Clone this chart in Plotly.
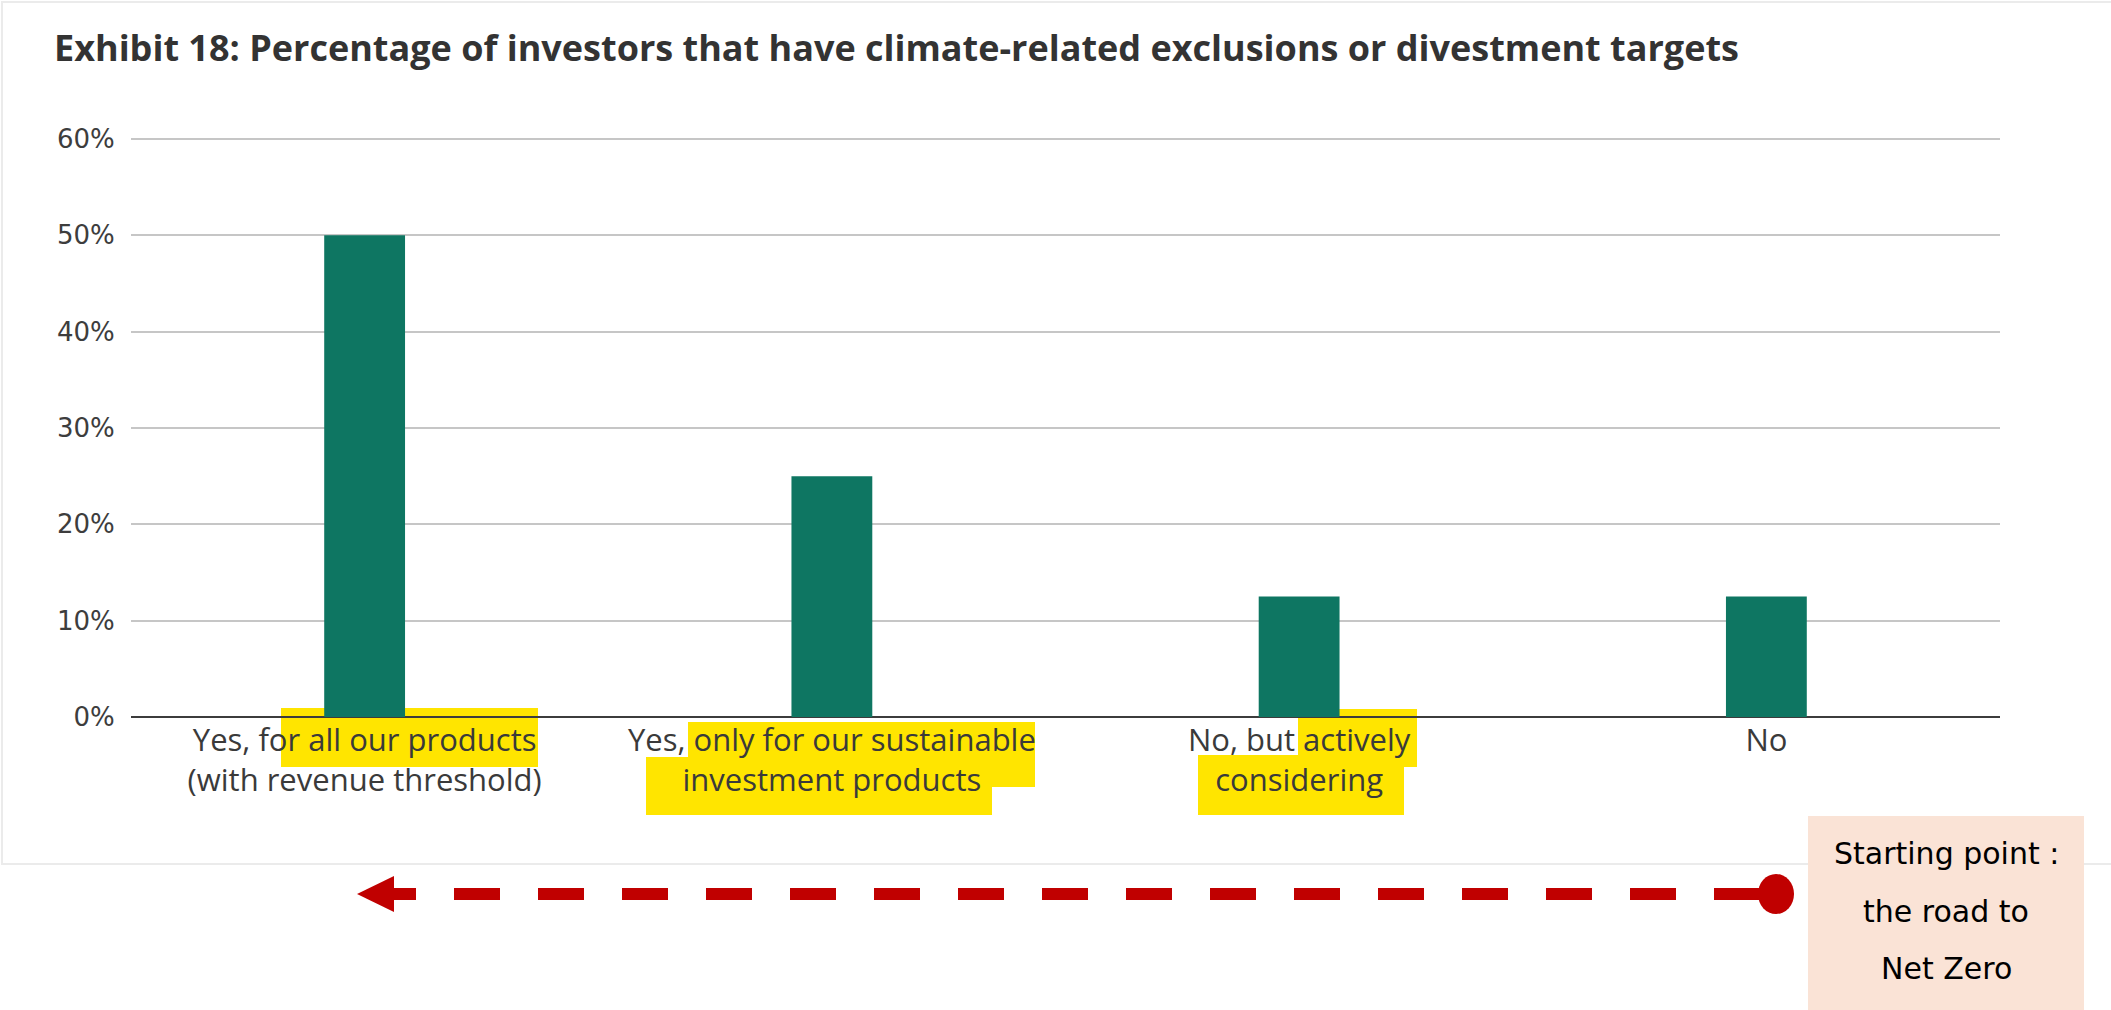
import plotly.graph_objects as go

# ---- data ----
categories = [
    "Yes, for all our products<br>(with revenue threshold)",
    "Yes, only for our sustainable<br>investment products",
    "No, but actively<br>considering",
    "No",
]
values = [50, 25, 12.5, 12.5]
y_ticks = [0, 10, 20, 30, 40, 50, 60]
y_tick_labels = ["0%", "10%", "20%", "30%", "40%", "50%", "60%"]
title_text = "Exhibit 18: Percentage of investors that have climate-related exclusions or divestment targets"
box_lines = ["Starting point :", "the road to", "Net Zero"]

# ---- layout geometry (pixels) ----
FW, FH = 2111, 1010
L, R_EDGE = 131, 2000
T, B = 137, 717
W, H = R_EDGE - L, B - T


def px(x):
    return (x - L) / W


def py(y):
    return (B - y) / H


fig = go.Figure()
fig.add_trace(go.Bar(
    x=categories, y=values,
    marker=dict(color="#0e7662", line=dict(width=0)),
    hoverinfo="skip",
))

shapes = []
# panel border
shapes.append(dict(type="rect", xref="paper", yref="paper",
                   x0=px(2), x1=px(2140), y0=py(2), y1=py(864),
                   line=dict(color="#ebebeb", width=2), fillcolor="rgba(0,0,0,0)", layer="below"))

# yellow highlights (behind text)
yellow = "#ffe500"
for (x0, y0, x1, y1) in [
    (281, 708, 538, 767),
    (688, 722, 1035, 787),
    (646, 757, 992, 815),
    (1298, 709, 1417, 767),
    (1198, 755, 1404, 815),
]:
    shapes.append(dict(type="rect", xref="paper", yref="paper",
                       x0=px(x0), x1=px(x1), y0=py(y0), y1=py(y1),
                       fillcolor=yellow, line=dict(width=0), layer="below"))

red = "#c00000"
# dashed arrow shaft (starting at circle)
shapes.append(dict(type="line", xref="paper", yref="paper",
                   x0=px(1760), x1=px(392), y0=py(894), y1=py(894),
                   line=dict(color=red, width=12, dash="46px,38px")))
# arrow head
shapes.append(dict(type="path", xref="paper", yref="paper",
                   path=f"M {px(357)} {py(894)} L {px(394)} {py(876)} L {px(394)} {py(912)} Z",
                   fillcolor=red, line=dict(width=0)))
# start circle
shapes.append(dict(type="circle", xref="paper", yref="paper",
                   x0=px(1758), x1=px(1794), y0=py(874), y1=py(914),
                   fillcolor=red, line=dict(width=0)))
# peach box
shapes.append(dict(type="rect", xref="paper", yref="paper",
                   x0=px(1808), x1=px(2084), y0=py(816), y1=py(1012),
                   fillcolor="#fae3d6", line=dict(width=0)))

annotations = [
    dict(text=f"<b>{title_text}</b>", xref="paper", yref="paper",
         x=px(52), y=py(47), xanchor="left", yanchor="middle", showarrow=False,
         font=dict(family="Open Sans", size=36, color="#333333")),
]
for line_txt, yy in zip(box_lines, [853, 911, 968]):
    annotations.append(dict(text=line_txt, xref="paper", yref="paper",
                            x=px(1946), y=py(yy), xanchor="center", yanchor="middle",
                            showarrow=False,
                            font=dict(family="DejaVu Sans", size=30, color="#000000")))

fig.update_layout(
    width=FW, height=FH,
    margin=dict(l=L, r=FW - R_EDGE, t=T, b=FH - B, pad=0),
    paper_bgcolor="white", plot_bgcolor="white",
    showlegend=False,
    bargap=0.827,
    shapes=shapes,
    annotations=annotations,
    xaxis=dict(
        showgrid=False, showline=False, zeroline=False,
        ticks="", ticklen=0, ticklabelstandoff=2,
        tickfont=dict(family="Open Sans", size=31, color="#3a3a3a"),
        fixedrange=True,
    ),
    yaxis=dict(
        range=[0, 60.2], tickvals=y_ticks, ticktext=y_tick_labels,
        showgrid=True, gridcolor="#c6c6c6", gridwidth=2,
        zeroline=True, zerolinecolor="#3c3c3c", zerolinewidth=2,
        showline=False,
        ticks="outside", ticklen=10, tickcolor="rgba(0,0,0,0)",
        tickfont=dict(family="DejaVu Sans", size=26, color="#3d3d3d"),
        fixedrange=True,
    ),
)

fig.write_html("out.html", config={"displayModeBar": False})
